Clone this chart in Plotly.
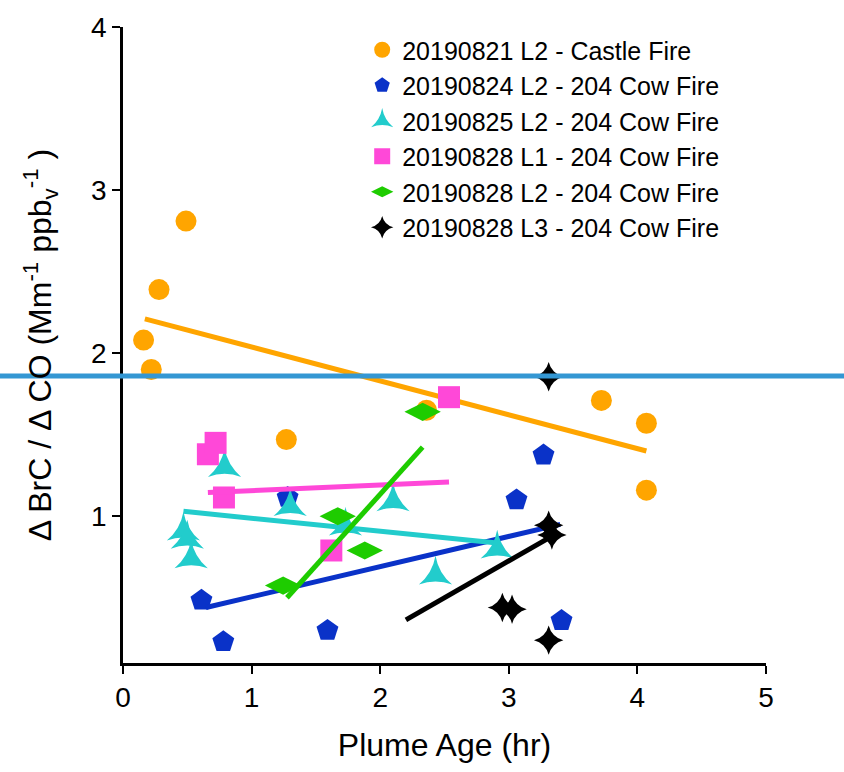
import plotly.graph_objects as go

# ---- data ----
castle_x = [0.16, 0.22, 0.28, 0.49, 1.27, 2.36, 3.72, 4.07, 4.07]
castle_y = [2.08, 1.90, 2.39, 2.81, 1.47, 1.65, 1.71, 1.57, 1.16]
castle_fit_x = [0.17, 4.07]
castle_fit_y = [2.21, 1.40]

d0824_x = [0.61, 0.78, 1.28, 1.59, 3.06, 3.27, 3.41]
d0824_y = [0.485, 0.23, 1.115, 0.30, 1.10, 1.375, 0.36]
d0824_fit_x = [0.645, 3.40]
d0824_fit_y = [0.44, 0.95]

d0825_x = [0.47, 0.50, 0.53, 0.79, 1.30, 1.73, 2.10, 2.43, 2.91]
d0825_y = [0.91, 0.86, 0.74, 1.30, 1.06, 0.94, 1.09, 0.64, 0.80]
d0825_fit_x = [0.47, 2.91]
d0825_fit_y = [1.03, 0.836]

d0828a_x = [0.66, 0.72, 0.785, 1.62, 2.535]
d0828a_y = [1.38, 1.45, 1.115, 0.79, 1.73]
d0828a_fit_x = [0.66, 2.535]
d0828a_fit_y = [1.145, 1.21]

d0828b_x = [1.245, 1.67, 1.88, 2.33]
d0828b_y = [0.575, 1.0, 0.79, 1.64]
d0828b_fit_x = [1.275, 2.33]
d0828b_fit_y = [0.50, 1.424]

d0828c_x = [2.95, 3.025, 3.31, 3.31, 3.335, 3.31]
d0828c_y = [0.44, 0.43, 1.855, 0.945, 0.885, 0.24]
d0828c_fit_x = [2.20, 3.34]
d0828c_fit_y = [0.364, 0.88]

names = [
    "20190821 L2 - Castle Fire",
    "20190824 L2 - 204 Cow Fire",
    "20190825 L2 - 204 Cow Fire",
    "20190828 L1 - 204 Cow Fire",
    "20190828 L2 - 204 Cow Fire",
    "20190828 L3 - 204 Cow Fire",
]
ref_line_y = 1.86
x_range = [0, 5]
y_range = [0.1, 4]
x_ticks = [0, 1, 2, 3, 4, 5]
y_ticks = [1, 2, 3, 4]

FONT = "Liberation Sans, Arial, sans-serif"

series = [
    (castle_x, castle_y, castle_fit_x, castle_fit_y, "#FFA500", "circle", 21),
    (d0824_x, d0824_y, d0824_fit_x, d0824_fit_y, "#0A32C8", "pentagon", 23),
    (d0825_x, d0825_y, d0825_fit_x, d0825_fit_y, "#22CCCC", "star-triangle-up", 24),
    (d0828a_x, d0828a_y, d0828a_fit_x, d0828a_fit_y, "#FF48D8", "square", 22),
    (d0828b_x, d0828b_y, d0828b_fit_x, d0828b_fit_y, "#1ECC00", "diamond-wide", 26),
    (d0828c_x, d0828c_y, d0828c_fit_x, d0828c_fit_y, "#000000", "star-diamond", 21),
]

fig = go.Figure()
for (xs, ys, fx, fy, col, sym, sz), nm in zip(series, names):
    fig.add_trace(go.Scatter(
        x=xs, y=ys, mode="markers", name=nm,
        marker=dict(color=col, symbol=sym, size=sz, line=dict(width=0)),
        cliponaxis=False,
    ))
    fig.add_trace(go.Scatter(
        x=fx, y=fy, mode="lines", showlegend=False,
        line=dict(color=col, width=5),
        hoverinfo="skip",
    ))

ref_paper_y = (ref_line_y - y_range[0]) / (y_range[1] - y_range[0])
fig.add_shape(type="line", xref="paper", yref="paper",
              x0=-0.2, x1=1.2, y0=ref_paper_y, y1=ref_paper_y,
              line=dict(color="#3497D3", width=5))

fig.update_layout(
    width=844, height=772,
    margin=dict(l=123, r=78, t=20, b=109),
    paper_bgcolor="white", plot_bgcolor="white",
    font=dict(family=FONT, color="black", size=25),
    showlegend=True,
    legend=dict(x=0.372, y=1.0, xanchor="left", yanchor="top",
                bgcolor="rgba(0,0,0,0)", font=dict(size=25, family=FONT),
                itemsizing="trace", tracegroupgap=0),
    xaxis=dict(range=x_range, tickvals=x_ticks, showgrid=False, zeroline=False,
               showline=True, linecolor="black", linewidth=2.5,
               ticks="outside", ticklen=8, tickwidth=2, tickcolor="black",
               tickfont=dict(size=28, family=FONT),
               title=dict(text="Plume Age (hr)", font=dict(size=32, family=FONT), standoff=22)),
    yaxis=dict(range=y_range, tickvals=y_ticks, showgrid=False, zeroline=False,
               showline=True, linecolor="black", linewidth=2.5,
               ticks="outside", ticklen=8, tickwidth=2, tickcolor="black",
               tickfont=dict(size=28, family=FONT),
               title=dict(text="Δ BrC / Δ CO (Mm<sup>-1</sup> ppb<sub>v</sub><sup>-1</sup> )",
                          font=dict(size=32, family=FONT), standoff=30)),
)

fig.write_html("out.html")
